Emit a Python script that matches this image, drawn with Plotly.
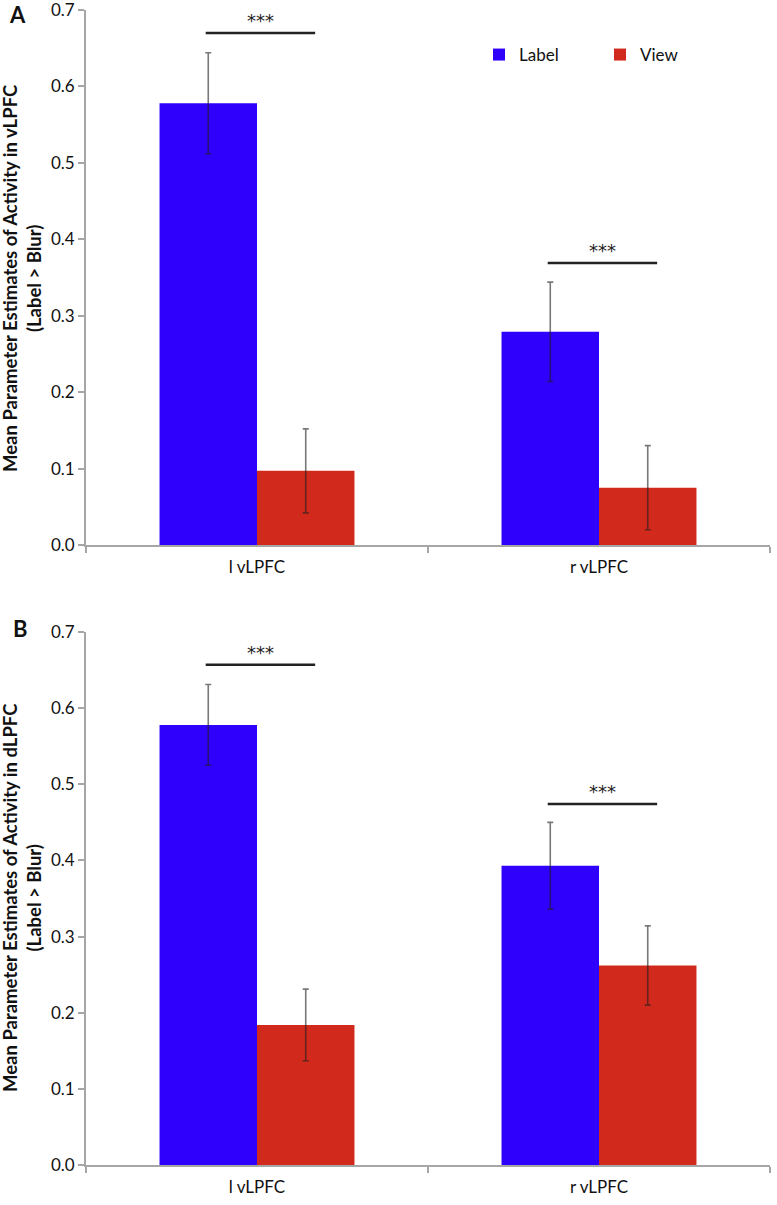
import plotly.graph_objects as go

categories = ["l vLPFC", "r vLPFC"]
series_names = ["Label", "View"]

# Panel A (vLPFC)
a_label = [0.578, 0.279]
a_label_err = [0.066, 0.065]
a_view = [0.097, 0.075]
a_view_err = [0.055, 0.055]
a_sig_y = [0.670, 0.369]

# Panel B (dLPFC)
b_label = [0.578, 0.393]
b_label_err = [0.053, 0.057]
b_view = [0.184, 0.262]
b_view_err = [0.047, 0.052]
b_sig_y = [0.657, 0.474]

y_ticks = [0.0, 0.1, 0.2, 0.3, 0.4, 0.5, 0.6, 0.7]
y_titles = ["Mean Parameter Estimates of Activity in vLPFC<br>(Label > Blur)",
            "Mean Parameter Estimates of Activity in dLPFC<br>(Label > Blur)"]
panel_letters = ["A", "B"]

BLUE = "#2f00fb"
RED = "#d12a1c"
ERR = "rgba(30,30,30,0.6)"
FONT = "Lato"
W, H = 777, 1205


def px(v):
    return v / W


def py(v):
    return 1 - v / H


fig = go.Figure()

panels = [
    (a_label, a_label_err, a_view, a_view_err, a_sig_y, "x", "y"),
    (b_label, b_label_err, b_view, b_view_err, b_sig_y, "x2", "y2"),
]

for i, (lab, labe, vw, vwe, sig, xa, ya) in enumerate(panels):
    fig.add_trace(go.Bar(x=categories, y=lab, name=series_names[0], marker_color=BLUE,
                         marker_line_width=0, xaxis=xa, yaxis=ya, showlegend=(i == 0),
                         error_y=dict(type="data", array=labe, color=ERR, thickness=1.6, width=3)))
    fig.add_trace(go.Bar(x=categories, y=vw, name=series_names[1], marker_color=RED,
                         marker_line_width=0, xaxis=xa, yaxis=ya, showlegend=(i == 0),
                         error_y=dict(type="data", array=vwe, color=ERR, thickness=1.6, width=3)))
    for ci, s in enumerate(sig):
        fig.add_shape(type="line", xref=xa, yref=ya, x0=ci - 0.15, x1=ci + 0.17, y0=s, y1=s,
                      line=dict(color="#222222", width=2.5))
        fig.add_annotation(x=ci + 0.01, y=s, xref=xa, yref=ya, text="***", showarrow=False,
                           yanchor="bottom", yshift=0,
                           font=dict(family="DejaVu Sans", size=18, color="#222222"))

xdom = [px(86), px(770)]
ydomA = [py(545), py(10)]
ydomB = [py(1165), py(632)]

axis_common = dict(showline=True, linecolor="#a6a6a6", linewidth=1.8, ticks="outside",
                   tickcolor="#a6a6a6", ticklen=6, tickwidth=1.8, showgrid=False, zeroline=False,
                   automargin=False, ticklabeloverflow="allow")

title_centers = [278, 898]
letter_pos = [(17, 15), (20, 628)]

for i, (xk, yk, yd) in enumerate([("xaxis", "yaxis", ydomA), ("xaxis2", "yaxis2", ydomB)]):
    fig.layout[xk] = dict(domain=xdom, anchor="y" if i == 0 else "y2", tickson="boundaries",
                          type="category", tickfont=dict(family=FONT, size=17, color="#111111"),
                          ticklabelstandoff=6, **axis_common)
    fig.layout[yk] = dict(domain=yd, anchor="x" if i == 0 else "x2", range=[0, 0.7],
                          tickvals=y_ticks, ticktext=[f"{t:.1f}" for t in y_ticks],
                          tickfont=dict(family=FONT, size=17, color="#111111"),
                          **axis_common)
    fig.add_annotation(x=px(22), y=py(title_centers[i]), xref="paper", yref="paper",
                       xanchor="center", yanchor="middle", textangle=-90, showarrow=False,
                       text="<b>" + y_titles[i].replace("<br>", "</b><br><b>") + "</b>",
                       font=dict(family=FONT, size=18.5, color="#111111"))
    fig.add_annotation(x=px(letter_pos[i][0]), y=py(letter_pos[i][1]),
                       xref="paper", yref="paper", xanchor="center", yanchor="middle",
                       text="<b>" + panel_letters[i] + "</b>", showarrow=False,
                       font=dict(family=FONT, size=22, color="#111111"))

fig.update_layout(
    width=W, height=H, margin=dict(l=0, r=0, t=0, b=0, autoexpand=False),
    plot_bgcolor="white", paper_bgcolor="white",
    barmode="group", bargap=0.43, bargroupgap=0,
    legend=dict(orientation="h", x=px(479), y=py(37), xanchor="left", yanchor="top",
                font=dict(family=FONT, size=17, color="#111111"), itemwidth=30,
                traceorder="normal", entrywidth=76),
)

fig.write_html("out.html", config={"displayModeBar": False},
               post_script="document.body.style.margin='0';document.body.style.overflow='hidden';")
